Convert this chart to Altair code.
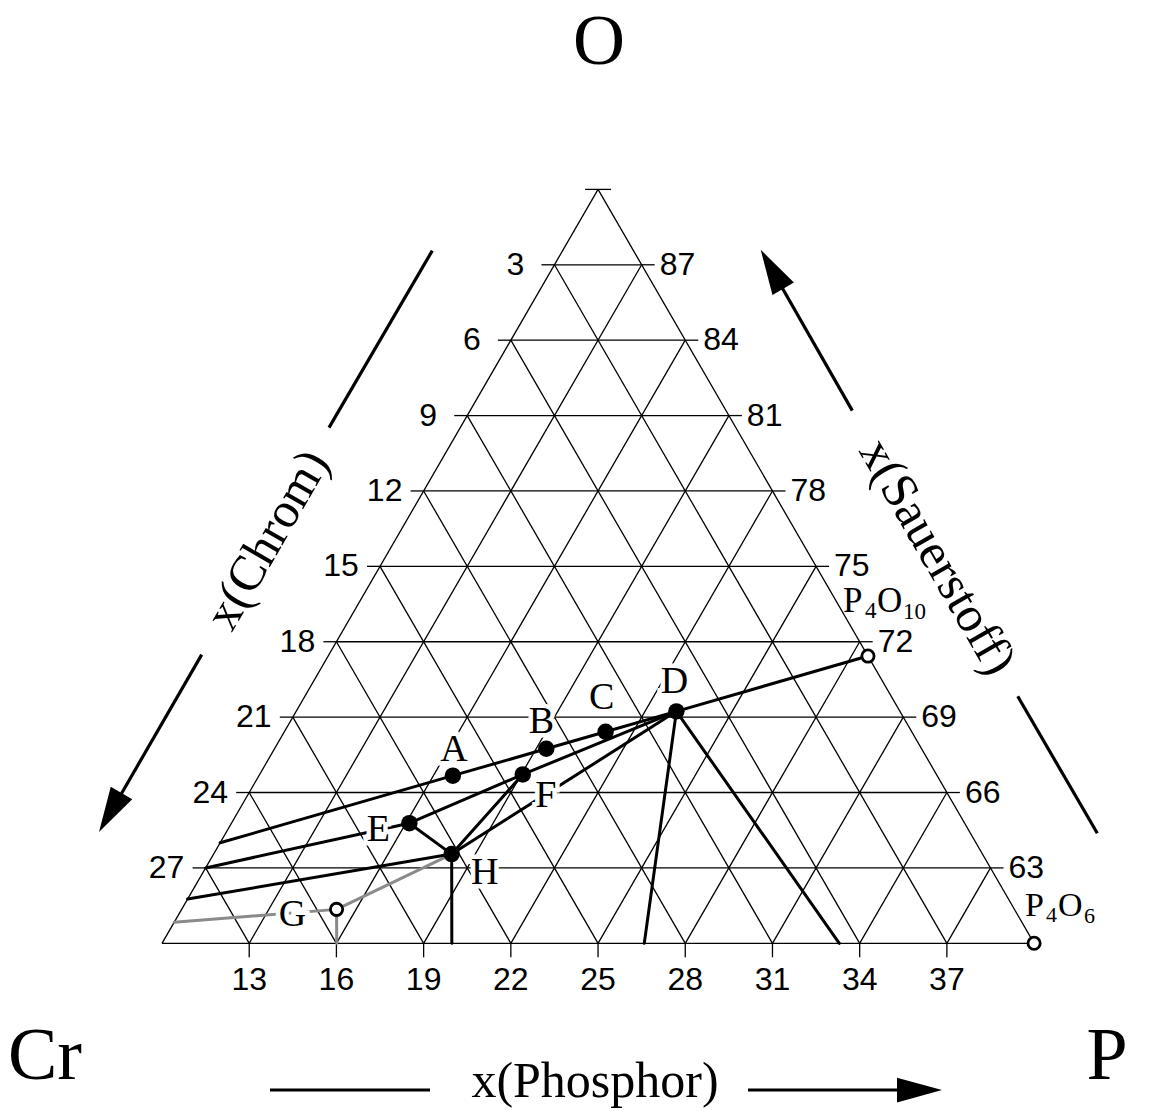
import altair as alt
import pandas as pd
import numpy as np

# ---------------- data (mol-% P and O; Cr = 100 - P - O) ----------------
filled_names = ["A", "B", "C", "D", "E", "F", "H"]
filled_P = [16.67, 19.35, 21.05, 23.08, 16.12, 19.05, 18.19]
filled_O = [66.67, 67.74, 68.42, 69.23, 64.78, 66.72, 63.55]

open_names = ["G", "P4O10", "P4O6"]
open_P = [15.33, 28.57, 40.00]
open_O = [61.35, 71.43, 60.00]

# end points of tie lines on the border of the section
edge_names = ["a0", "e0", "h0", "g0", "h1", "g1", "d1", "d2"]
edge_P = [10.00, 10.00, 10.00, 10.00, 19.97, 16.01, 26.59, 33.30]
edge_O = [64.00, 63.00, 61.76, 60.84, 60.00, 60.00, 60.00, 60.00]

tie_black_from = ["a0", "A", "B", "C", "D", "e0", "E", "E", "F", "H", "H", "h0", "H", "D", "D"]
tie_black_to = ["A", "B", "C", "D", "P4O10", "E", "H", "F", "D", "F", "D", "H", "h1", "d1", "d2"]
tie_gray_from = ["g0", "G", "G"]
tie_gray_to = ["G", "H", "g1"]

o_ticks = [63, 66, 69, 72, 75, 78, 81, 84, 87]
p_ticks = [13, 16, 19, 22, 25, 28, 31, 34, 37]
cr_ticks = [3, 6, 9, 12, 15, 18, 21, 24, 27]

# ---------------- geometry / layout ----------------
W, H = 1135, 1103
PXX, PXY = 29.07, 25.13          # px per unit
X0PX, Y0PX = 162.0, 943.3        # page px of corner (P=10, O=60)

def cart(P, O):
    return P + (O - 60) / 2.0, O - 60.0

def pxd(xp, yp):
    return 10 + (xp - X0PX) / PXX, (Y0PX - yp) / PXY

xdom = [10 - (X0PX - 8) / PXX, 10 + (W - (X0PX - 8)) / PXX]
ydom = [-(H - (Y0PX - 8)) / PXY, (Y0PX - 8) / PXY]
xs = alt.Scale(domain=xdom, nice=False, zero=False)
ys = alt.Scale(domain=ydom, nice=False, zero=False)

coords = {}
for n, p, o in zip(filled_names, filled_P, filled_O):
    coords[n] = cart(p, o)
for n, p, o in zip(open_names, open_P, open_O):
    coords[n] = cart(p, o)
for n, p, o in zip(edge_names, edge_P, edge_O):
    coords[n] = cart(p, o)

def seg_df(segs):
    return pd.DataFrame([{"x": a[0], "y": a[1], "x2": b[0], "y2": b[1]} for a, b in segs])

def enc_rule(ch):
    return ch.encode(x=alt.X("x:Q", scale=xs, axis=None), y=alt.Y("y:Q", scale=ys, axis=None),
                     x2="x2:Q", y2="y2:Q")

# grid
grid = []
for o in o_ticks:
    grid.append((cart(10, o), cart(100 - o, o)))
for p in p_ticks:
    grid.append((cart(p, 60), cart(p, 100 - p)))
for c in cr_ticks:
    grid.append((cart(40 - c, 60), cart(10, 90 - c)))
grid += [(cart(10, 60), cart(40, 60)), (cart(10, 60), cart(10, 90)), (cart(40, 60), cart(10, 90))]

tl = 13 / PXX
tb = 14 / PXY
ticks = []
for o in o_ticks + [90]:
    lx, ly = cart(10, o)
    rx, ry = cart(100 - o, o)
    ticks.append(((lx - tl, ly), (lx, ly)))
    ticks.append(((rx, ry), (rx + tl, ry)))
for p in p_ticks:
    bx, by = cart(p, 60)
    ticks.append(((bx, by), (bx, by - tb)))

grid_layer = enc_rule(alt.Chart(seg_df(grid + ticks)).mark_rule(color="black", strokeWidth=1.3))

black_layer = enc_rule(alt.Chart(seg_df([(coords[a], coords[b]) for a, b in zip(tie_black_from, tie_black_to)]))
                       .mark_rule(color="black", strokeWidth=3, strokeCap="round"))
gray_layer = enc_rule(alt.Chart(seg_df([(coords[a], coords[b]) for a, b in zip(tie_gray_from, tie_gray_to)]))
                      .mark_rule(color="#8a8a8a", strokeWidth=3, strokeCap="round"))

XY = dict(x=alt.X("x:Q", scale=xs, axis=None), y=alt.Y("y:Q", scale=ys, axis=None))

fdf = pd.DataFrame({"name": filled_names, "x": [coords[n][0] for n in filled_names],
                    "y": [coords[n][1] for n in filled_names]})
odf = pd.DataFrame({"name": open_names, "x": [coords[n][0] for n in open_names],
                    "y": [coords[n][1] for n in open_names]})
filled_layer = alt.Chart(fdf).mark_point(shape="circle", filled=True, color="black", size=270, opacity=1).encode(**XY)
open_layer = alt.Chart(odf).mark_point(shape="circle", fill="white", stroke="black", strokeWidth=2.8,
                                       size=150, opacity=1, filled=True).encode(**XY)

# letter labels (pixel offsets from their point)
label_off = {"A": (1, -26), "B": (-5, -27), "C": (-4, -34), "D": (-2, -29),
             "E": (-31, 7), "F": (23, 22), "G": (-44, 6), "H": (33, 19)}
lrows = []
for n, (dx, dy) in label_off.items():
    x, y = coords[n]
    lrows.append({"t": n, "x": x + dx / PXX, "y": y - dy / PXY})
ldf = pd.DataFrame(lrows)
SERIF = "Liberation Serif"
SANS = "Liberation Sans"
halo = alt.Chart(ldf).mark_text(font=SERIF, fontSize=38, color="white", stroke="white", strokeWidth=9,
                                baseline="middle", align="center").encode(text="t:N", **XY)
ltext = alt.Chart(ldf).mark_text(font=SERIF, fontSize=38, color="black",
                                 baseline="middle", align="center").encode(text="t:N", **XY)

# formula labels with subscripts: (text, size, dx, dy) relative to point, baseline alphabetic
formula_parts = {
    "P4O10": [("P", 35, -25, -44), ("4", 23, -3, -38), ("O", 35, 9, -44), ("10", 23, 35, -37)],
    "P4O6": [("P", 34, -9, -27), ("4", 22, 12, -21), ("O", 34, 24, -27), ("6", 22, 50, -20)],
}
frows = []
for n, parts in formula_parts.items():
    x, y = coords[n]
    for t, s, dx, dy in parts:
        frows.append({"t": t, "s": s, "x": x + dx / PXX, "y": y - dy / PXY})
formula_layer = alt.Chart(pd.DataFrame(frows)).mark_text(font=SERIF, color="black", baseline="alphabetic",
                                                         align="left").encode(
    text="t:N", size=alt.Size("s:Q", scale=None), **XY)

# tick labels
left_rows, right_rows, bottom_rows = [], [], []
for o in o_ticks:
    lx, ly = cart(10, o)
    left_rows.append({"t": str(90 - o), "x": lx - tl - 26 / PXX, "y": ly})
    rx, ry = cart(100 - o, o)
    right_rows.append({"t": str(o), "x": rx + tl + 5 / PXX, "y": ry})
for p in p_ticks:
    bx, by = cart(p, 60)
    bottom_rows.append({"t": str(p), "x": bx, "y": by - 37 / PXY})
tick_left = alt.Chart(pd.DataFrame(left_rows)).mark_text(font=SANS, fontSize=32, align="center",
                                                         baseline="middle").encode(text="t:N", **XY)
tick_right = alt.Chart(pd.DataFrame(right_rows)).mark_text(font=SANS, fontSize=32, align="left",
                                                           baseline="middle").encode(text="t:N", **XY)
tick_bottom = alt.Chart(pd.DataFrame(bottom_rows)).mark_text(font=SANS, fontSize=32, align="center",
                                                             baseline="middle").encode(text="t:N", **XY)

# titles and corner labels (page px positions)
title_rows = []
for t, xp, yp, s, a in [("O", 599, 42, 72, 0), ("Cr", 45, 1057, 74, 0), ("P", 1107, 1057, 74, 0),
                        ("x(Phosphor)", 595, 1082, 50, 0), ("x(Chrom)", 268, 540, 50, 300),
                        ("x(Sauerstoff)", 937, 557, 50, 60)]:
    x, y = pxd(xp, yp)
    title_rows.append({"t": t, "x": x, "y": y, "s": s, "a": a})
titles = alt.Chart(pd.DataFrame(title_rows)).mark_text(font=SERIF, color="black", baseline="middle",
                                                       align="center").encode(
    text="t:N", size=alt.Size("s:Q", scale=None), angle=alt.Angle("a:Q", scale=None), **XY)

# arrows
arrow_lines = [((432.3, 250.6), (329, 427.6)), ((201.7, 654.6), (112, 810)),
               ((852.3, 410.6), (772, 270)), ((1017.7, 696.3), (1097.3, 833.2)),
               ((270, 1090), (430, 1090)), ((748, 1090), (915, 1090))]
arrow_df = seg_df([(pxd(*a), pxd(*b)) for a, b in arrow_lines])
arrow_layer = enc_rule(alt.Chart(arrow_df).mark_rule(color="black", strokeWidth=3.2))
heads = []
for xp, yp, a in [(99, 832, 210), (760.7, 249.8, 330), (942, 1090, 90)]:
    x, y = pxd(xp, yp)
    heads.append({"x": x, "y": y, "a": a})
head_layer = alt.Chart(pd.DataFrame(heads)).mark_point(shape="M0,0L0.55,2L-0.55,2Z", filled=True,
                                                       color="black", size=2025, opacity=1,
                                                       strokeWidth=0).encode(
    angle=alt.Angle("a:Q", scale=None), **XY)

chart = alt.layer(grid_layer, gray_layer, black_layer, filled_layer, open_layer, halo, ltext,
                  formula_layer, tick_left, tick_right, tick_bottom, titles, arrow_layer, head_layer
                  ).properties(width=W, height=H, autosize="none", padding=0
                  ).configure_view(stroke=None)

chart.save("out.html", embed_options={"renderer": "svg", "actions": False})
